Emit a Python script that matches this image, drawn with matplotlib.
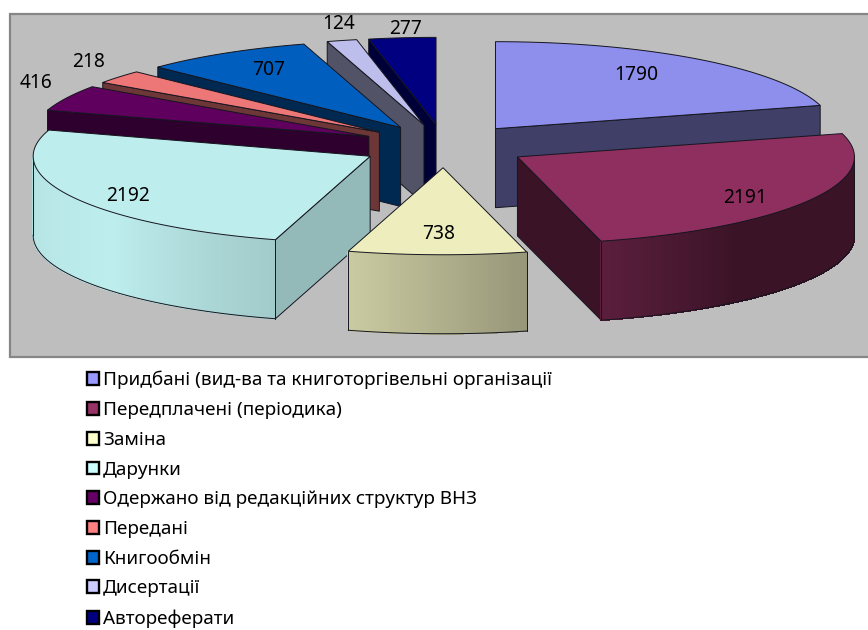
import matplotlib
matplotlib.use("Agg")
import matplotlib.pyplot as plt
import numpy as np
from matplotlib.colors import to_rgb
from matplotlib.patches import Polygon, Rectangle

categories = ["Придбані (вид-ва та книготоргівельні організації",
              "Передплачені (періодика)",
              "Заміна",
              "Дарунки",
              "Одержано від редакційних структур ВНЗ",
              "Передані",
              "Книгообмін",
              "Дисертації",
              "Автореферати"]
values = [1790, 2191, 738, 2192, 416, 218, 707, 124, 277]
colors = ["#9999FF", "#993366", "#FFFFCC", "#CCFFFF", "#660066",
          "#FF8080", "#0066CC", "#CCCCFF", "#000080"]

# geometry of the 3d pie, in pixels of the picture
cx, cy = 444.5, 146
rx, ry = 337, 87
depth = 79
explode = 0.25

# label place as a fraction of the radius
label_rx = [0.69, 0.78, 0.8, 0.815, 1.10, 1.115, 0.75, 1.045, 0.9]
label_ry = [0.78, 0.94, 0.76, 0.96, 1.38, 1.28, 0.78, 1.2, 1.1]
# side wall brightness, relative to the top
face_shade = [0.44, 0.41, 0.45, 0.78, 0.47, 0.46, 0.43, 0.44, 0.47]
top_shade = 0.93
edge = "#15151f"


def rim_shade(t):
    return top_shade * np.interp(t, [90, 140, 165, 196, 230, 265, 270], [0.41, 0.41, 0.63, 0.85, 1.0, 0.96, 0.93])


def dark(col, k):
    return tuple(c * k for c in to_rgb(col))


def point(ax_, ay_, t, r=1.0):
    a = np.radians(t)
    return ax_ + r * rx * np.sin(a), ay_ - r * ry * np.cos(a)


fig = plt.figure(figsize=(8.68, 6.30), dpi=100)
ax = fig.add_axes([0, 0, 1, 1])
ax.set_xlim(0, 868)
ax.set_ylim(630, 0)
ax.axis("off")

ax.add_patch(Rectangle((9.5, 14), 870, 342.5, facecolor="#BEBEBE", edgecolor="#868686", linewidth=1.6, zorder=0))

shares = np.array(values) / sum(values) * 360
starts = np.concatenate([[0], np.cumsum(shares)[:-1]])
ends = starts + shares
mids = (starts + ends) / 2

# back slices first
order = np.argsort(-np.cos(np.radians(mids)))
z = 1
for i in order:
    col = colors[i]
    a0, a1, am = starts[i], ends[i], mids[i]
    ax_, ay_ = point(cx, cy, am, explode)

    # flat side walls
    for t in (a0, a1):
        e = (np.sin(np.radians(t)), -np.cos(np.radians(t)))
        inner = (np.sin(np.radians(am)), -np.cos(np.radians(am)))
        c_down = e[0] * 1
        c_in = e[0] * inner[1] - e[1] * inner[0]
        if abs(c_down) > 1e-6 and c_down * c_in < 0:
            px, py = point(ax_, ay_, t)
            ax.add_patch(Polygon([(ax_, ay_), (px, py), (px, py + depth), (ax_, ay_ + depth)],
                                 facecolor=dark(col, face_shade[i] * top_shade), edgecolor=edge, linewidth=0.7, zorder=z))
            z += 1

    # front rim with shading along the arc
    r0, r1 = max(a0, 90), min(a1, 270)
    if r1 > r0:
        ts = np.linspace(r0, r1, int((r1 - r0) * 1.5) + 2)
        for t0, t1 in zip(ts[:-1], ts[1:]):
            x0, y0 = point(ax_, ay_, t0)
            x1, y1 = point(ax_, ay_, t1)
            c = dark(col, rim_shade((t0 + t1) / 2))
            ax.add_patch(Polygon([(x0, y0), (x1, y1), (x1, y1 + depth), (x0, y0 + depth)],
                                 facecolor=c, edgecolor=c, linewidth=0.6, antialiased=False, zorder=z))
        xs, ys = point(ax_, ay_, ts)
        ax.plot(xs, ys + depth, color=edge, linewidth=0.7, zorder=z + 1)
        for j in (0, -1):
            ax.plot([xs[j], xs[j]], [ys[j], ys[j] + depth], color=edge, linewidth=0.7, zorder=z + 1)
        z += 2

    # top of the slice
    ts = np.linspace(a0, a1, 80)
    xs, ys = point(ax_, ay_, ts)
    top = [(ax_, ay_)] + list(zip(xs, ys))
    ax.add_patch(Polygon(top, facecolor=dark(col, top_shade) if i != 8 else col, edgecolor=edge, linewidth=0.7, zorder=z))
    z += 1

for i, v in enumerate(values):
    ax_, ay_ = point(cx, cy, mids[i], explode)
    a = np.radians(mids[i])
    ax.text(ax_ + label_rx[i] * rx * np.sin(a), ay_ - label_ry[i] * ry * np.cos(a), str(v),
            fontsize=13.8, family="Noto Sans", color="black", ha="center", va="center", zorder=z + 1)

handles = [Rectangle((0, 0), 1, 1, facecolor=c, edgecolor="black", linewidth=1.7) for c in colors]
ax.legend(handles, categories, loc="upper left", bbox_to_anchor=(86.5 / 868, 1 - 371 / 630), frameon=False,
          handlelength=0.68, handleheight=0.68, handletextpad=0.2, labelspacing=0.62, borderpad=0, borderaxespad=0,
          prop={"family": "Noto Sans", "size": 13.6})

fig.savefig("out.png", dpi=100)
